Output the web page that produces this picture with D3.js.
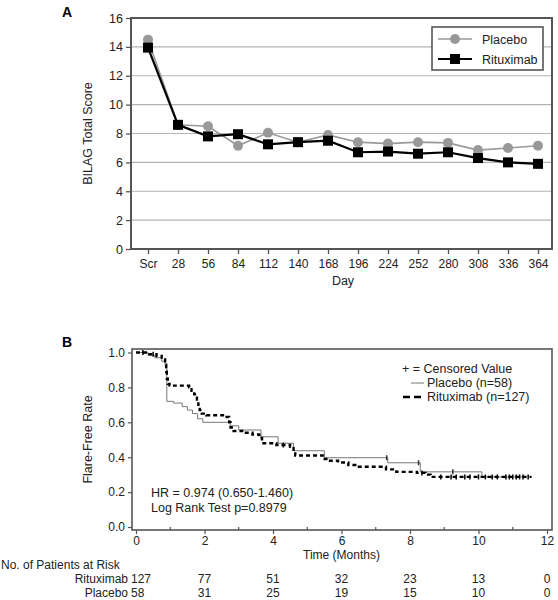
<!DOCTYPE html>
<html>
<head>
<meta charset="utf-8">
<script src="https://cdn.jsdelivr.net/npm/d3@7"></script>
<style>
  html, body { margin: 0; padding: 0; background: #fff; }
  svg { display: block; font-family: "Liberation Sans", Arial, sans-serif; }
</style>
</head>
<body>
<svg id="chart" width="558" height="600"></svg>
<script>
// ---------- Panel A data ----------
const days = ["Scr","28","56","84","112","140","168","196","224","252","280","308","336","364"];
const placeboScore = [14.5, 8.6, 8.5, 7.15, 8.05, 7.4, 7.9, 7.4, 7.3, 7.4, 7.35, 6.85, 7.0, 7.15];
const rituximabScore = [13.95, 8.6, 7.8, 7.95, 7.25, 7.4, 7.5, 6.7, 6.75, 6.6, 6.7, 6.3, 6.0, 5.9];
const scoreTicks = [0, 2, 4, 6, 8, 10, 12, 14, 16];
const legendA = ["Placebo", "Rituximab"];

// ---------- Panel B data ----------
const monthTicks = [0, 2, 4, 6, 8, 10, 12];
const rateTicks = [0, 0.2, 0.4, 0.6, 0.8, 1.0];
const rituxTime = [0, 0.35, 0.6, 0.75, 0.85, 0.88, 0.9, 0.93, 0.98, 1.55, 1.62, 1.7, 1.78, 1.82, 1.86, 1.92, 2.05, 2.6, 2.72, 2.76, 2.85, 3.1, 3.4, 3.6, 3.68, 4.1, 4.5, 4.6, 4.65, 5.45, 5.6, 5.9, 6.2, 6.4, 7.3, 7.6, 8.2, 8.45, 8.6];
const rituxSurv = [1.0, 0.99, 0.98, 0.96, 0.93, 0.89, 0.85, 0.82, 0.81, 0.80, 0.78, 0.76, 0.73, 0.70, 0.67, 0.65, 0.64, 0.63, 0.60, 0.57, 0.55, 0.54, 0.53, 0.51, 0.48, 0.47, 0.46, 0.43, 0.41, 0.39, 0.38, 0.37, 0.355, 0.345, 0.33, 0.316, 0.31, 0.30, 0.287];
const rituxEnd = 11.55;
const rituxCensor = [0.2, 0.5, 4.3, 8.35, 8.9, 9.2, 9.35, 9.6, 9.75, 10.0, 10.2, 10.4, 10.55, 10.8, 10.9, 11.0, 11.1, 11.2, 11.3, 11.45];
const placeboTime = [0, 0.35, 0.55, 0.75, 0.85, 0.9, 1.1, 1.35, 1.5, 1.65, 1.8, 1.95, 2.75, 3.0, 3.65, 4.15, 4.6, 5.5, 7.35, 8.3, 10.1];
const placeboSurv = [1.0, 0.985, 0.97, 0.95, 0.93, 0.72, 0.71, 0.69, 0.67, 0.65, 0.62, 0.60, 0.58, 0.556, 0.517, 0.48, 0.437, 0.397, 0.368, 0.316, 0.287];
const placeboEnd = 11.3;
const placeboCensor = [7.32, 8.25, 9.25];
const riskRituximab = [127, 77, 51, 32, 23, 13, 0];
const riskPlacebo = [58, 31, 25, 19, 15, 10, 0];

const svg = d3.select("#chart");
const axisColor = "#555";
const FONT = "Liberation Sans, Arial, sans-serif";

// ================= PANEL A =================
const boxA = {l: 131, r: 552, t: 18, b: 249};
const xA = d3.scalePoint().domain(days).range([148, 538]);
const yA = d3.scaleLinear().domain([0, 16]).range([boxA.b, boxA.t]);

svg.append("text").attr("x", 62).attr("y", 17).attr("font-size", 14).attr("font-weight", "bold").text("A");

// gridlines
svg.append("g").selectAll("line").data(scoreTicks.filter(d => d > 0 && d < 16)).join("line")
  .attr("x1", boxA.l).attr("x2", boxA.r)
  .attr("y1", d => yA(d)).attr("y2", d => yA(d))
  .attr("stroke", "#b4b4b4").attr("stroke-width", 1.2);

// y axis
const yAxisA = svg.append("g").attr("transform", `translate(${boxA.l},0)`)
  .call(d3.axisLeft(yA).tickValues(scoreTicks).tickSize(5).tickPadding(3).tickFormat(d3.format("d")));
yAxisA.select(".domain").remove();
yAxisA.selectAll("line").attr("stroke", axisColor).attr("stroke-width", 1.3);
yAxisA.selectAll("text").attr("font-size", 12.5).attr("fill", "#222").attr("font-family", FONT);

// x axis
const xAxisA = svg.append("g").attr("transform", `translate(0,${boxA.b})`)
  .call(d3.axisBottom(xA).tickSize(5).tickPadding(5));
xAxisA.select(".domain").remove();
xAxisA.selectAll("line").attr("stroke", axisColor).attr("stroke-width", 1.3);
xAxisA.selectAll("text").attr("font-size", 12).attr("fill", "#222").attr("font-family", FONT);

// frame
svg.append("rect").attr("x", boxA.l).attr("y", boxA.t).attr("width", boxA.r - boxA.l).attr("height", boxA.b - boxA.t)
  .attr("fill", "none").attr("stroke", axisColor).attr("stroke-width", 2);

svg.append("text").attr("x", (xA("196") + xA("168")) / 2).attr("y", 285).attr("text-anchor", "middle")
  .attr("font-size", 12.5).attr("fill", "#222").text("Day");
svg.append("text").attr("transform", `translate(92,${(boxA.t + boxA.b) / 2}) rotate(-90)`).attr("text-anchor", "middle")
  .attr("font-size", 12.5).attr("fill", "#222").text("BILAG Total Score");

const lineA = d3.line().x((d, i) => xA(days[i])).y(d => yA(d));
const placeboColor = "#999";
svg.append("path").attr("d", lineA(placeboScore)).attr("fill", "none").attr("stroke", placeboColor).attr("stroke-width", 1.6);
svg.append("path").attr("d", lineA(rituximabScore)).attr("fill", "none").attr("stroke", "#000").attr("stroke-width", 2.2);
svg.append("g").selectAll("circle").data(placeboScore).join("circle")
  .attr("cx", (d, i) => xA(days[i])).attr("cy", d => yA(d)).attr("r", 5).attr("fill", placeboColor);
const sq = 10;
svg.append("g").selectAll("rect").data(rituximabScore).join("rect")
  .attr("x", (d, i) => xA(days[i]) - sq / 2).attr("y", d => yA(d) - sq / 2)
  .attr("width", sq).attr("height", sq).attr("fill", "#000");

// legend A
const lgA = svg.append("g");
lgA.append("rect").attr("x", 432).attr("y", 27).attr("width", 111).attr("height", 43)
  .attr("fill", "#fff").attr("stroke", axisColor).attr("stroke-width", 1.6);
lgA.append("line").attr("x1", 438).attr("x2", 472).attr("y1", 39).attr("y2", 39).attr("stroke", placeboColor).attr("stroke-width", 1.6);
lgA.append("circle").attr("cx", 455).attr("cy", 39).attr("r", 5).attr("fill", placeboColor);
lgA.append("text").attr("x", 482).attr("y", 43.5).attr("font-size", 12.5).attr("fill", "#222").text(legendA[0]);
lgA.append("line").attr("x1", 438).attr("x2", 472).attr("y1", 59).attr("y2", 59).attr("stroke", "#000").attr("stroke-width", 2.2);
lgA.append("rect").attr("x", 455 - sq / 2).attr("y", 59 - sq / 2).attr("width", sq).attr("height", sq).attr("fill", "#000");
lgA.append("text").attr("x", 482).attr("y", 63.5).attr("font-size", 12.5).attr("fill", "#222").text(legendA[1]);

// ================= PANEL B =================
const boxB = {l: 132, r: 552, t: 349, b: 530};
const xB = d3.scaleLinear().domain([0, 12]).range([136, 547]);
const yB = d3.scaleLinear().domain([0, 1]).range([527, 352.5]);

svg.append("text").attr("x", 62).attr("y", 347).attr("font-size", 14).attr("font-weight", "bold").text("B");

svg.append("rect").attr("x", boxB.l).attr("y", boxB.t).attr("width", boxB.r - boxB.l).attr("height", boxB.b - boxB.t)
  .attr("fill", "none").attr("stroke", axisColor).attr("stroke-width", 1.6);

const yAxisB = svg.append("g").attr("transform", `translate(${boxB.l},0)`)
  .call(d3.axisLeft(yB).tickValues(rateTicks).tickSize(4).tickPadding(3).tickFormat(d3.format(".1f")));
yAxisB.select(".domain").remove();
yAxisB.selectAll("line").attr("stroke", axisColor).attr("stroke-width", 1.2);
yAxisB.selectAll("text").attr("font-size", 12).attr("fill", "#222").attr("font-family", FONT);

const xAxisB = svg.append("g").attr("transform", `translate(0,${boxB.b})`)
  .call(d3.axisBottom(xB).tickValues(monthTicks).tickSize(4).tickPadding(2).tickFormat(d3.format("d")));
xAxisB.select(".domain").remove();
xAxisB.selectAll("line").attr("stroke", axisColor).attr("stroke-width", 1.2);
xAxisB.selectAll("text").attr("font-size", 12).attr("fill", "#222").attr("font-family", FONT);
// minor ticks
svg.append("g").selectAll("line").data(d3.range(1, 12, 2)).join("line")
  .attr("x1", d => xB(d)).attr("x2", d => xB(d)).attr("y1", boxB.b).attr("y2", boxB.b - 3)
  .attr("stroke", axisColor).attr("stroke-width", 1.2);

svg.append("text").attr("x", xB(6)).attr("y", 559).attr("text-anchor", "middle")
  .attr("font-size", 12).attr("fill", "#222").text("Time (Months)");
svg.append("text").attr("transform", `translate(92,${(boxB.t + boxB.b) / 2}) rotate(-90)`).attr("text-anchor", "middle")
  .attr("font-size", 12.5).attr("fill", "#222").text("Flare-Free Rate");

const stepLine = d3.line().curve(d3.curveStepAfter).x(d => xB(d[0])).y(d => yB(d[1]));
const rPts = rituxTime.map((t, i) => [t, rituxSurv[i]]).concat([[rituxEnd, rituxSurv[rituxSurv.length - 1]]]);
const pPts = placeboTime.map((t, i) => [t, placeboSurv[i]]).concat([[placeboEnd, placeboSurv[placeboSurv.length - 1]]]);

svg.append("path").attr("d", stepLine(pPts)).attr("fill", "none").attr("stroke", "#777").attr("stroke-width", 1);
svg.append("path").attr("d", stepLine(rPts)).attr("fill", "none").attr("stroke", "#000").attr("stroke-width", 2.4)
  .attr("stroke-dasharray", "4,3");

function survAt(times, surv, t) {
  const i = d3.bisectRight(times, t) - 1;
  return surv[Math.max(0, i)];
}
svg.append("g").selectAll("line").data(rituxCensor).join("line")
  .attr("x1", d => xB(d)).attr("x2", d => xB(d))
  .attr("y1", d => yB(survAt(rituxTime, rituxSurv, d)) - 2.5).attr("y2", d => yB(survAt(rituxTime, rituxSurv, d)) + 2.5)
  .attr("stroke", "#000").attr("stroke-width", 1.5);
svg.append("g").selectAll("line").data(placeboCensor).join("line")
  .attr("x1", d => xB(d)).attr("x2", d => xB(d))
  .attr("y1", d => yB(survAt(placeboTime, placeboSurv, d)) - 2.5).attr("y2", d => yB(survAt(placeboTime, placeboSurv, d)) + 2.5)
  .attr("stroke", "#333").attr("stroke-width", 1.5);

// legend B
const lgB = svg.append("g").attr("font-size", 12.5).attr("fill", "#222");
lgB.append("text").attr("x", 402).attr("y", 373).text("+ = Censored Value");
lgB.append("line").attr("x1", 411).attr("x2", 424).attr("y1", 383).attr("y2", 383).attr("stroke", "#777").attr("stroke-width", 1);
lgB.append("text").attr("x", 427).attr("y", 387).text("Placebo (n=58)");
lgB.append("line").attr("x1", 403).attr("x2", 424).attr("y1", 397).attr("y2", 397).attr("stroke", "#000").attr("stroke-width", 2.4).attr("stroke-dasharray", "7,4");
lgB.append("text").attr("x", 427).attr("y", 401).text("Rituximab (n=127)");

// annotation
svg.append("text").attr("x", 151).attr("y", 497).attr("font-size", 12.5).attr("fill", "#222").text("HR = 0.974 (0.650-1.460)");
svg.append("text").attr("x", 151).attr("y", 512).attr("font-size", 12.5).attr("fill", "#222").text("Log Rank Test p=0.8979");

// risk table
svg.append("text").attr("x", 1).attr("y", 569).attr("font-size", 12).attr("fill", "#222").text("No. of Patients at Risk");
svg.append("text").attr("x", 128).attr("y", 583).attr("text-anchor", "end").attr("font-size", 12).attr("fill", "#222").text("Rituximab");
svg.append("text").attr("x", 128).attr("y", 597).attr("text-anchor", "end").attr("font-size", 12).attr("fill", "#222").text("Placebo");
function riskRow(vals, y) {
  svg.append("g").selectAll("text").data(vals).join("text")
    .attr("x", (d, i) => i === 0 ? 131 : xB(monthTicks[i]))
    .attr("y", y)
    .attr("text-anchor", (d, i) => i === 0 ? "start" : "middle")
    .attr("font-size", 12).attr("fill", "#222").text(d => d);
}
riskRow(riskRituximab, 583);
riskRow(riskPlacebo, 597);
</script>
</body>
</html>
